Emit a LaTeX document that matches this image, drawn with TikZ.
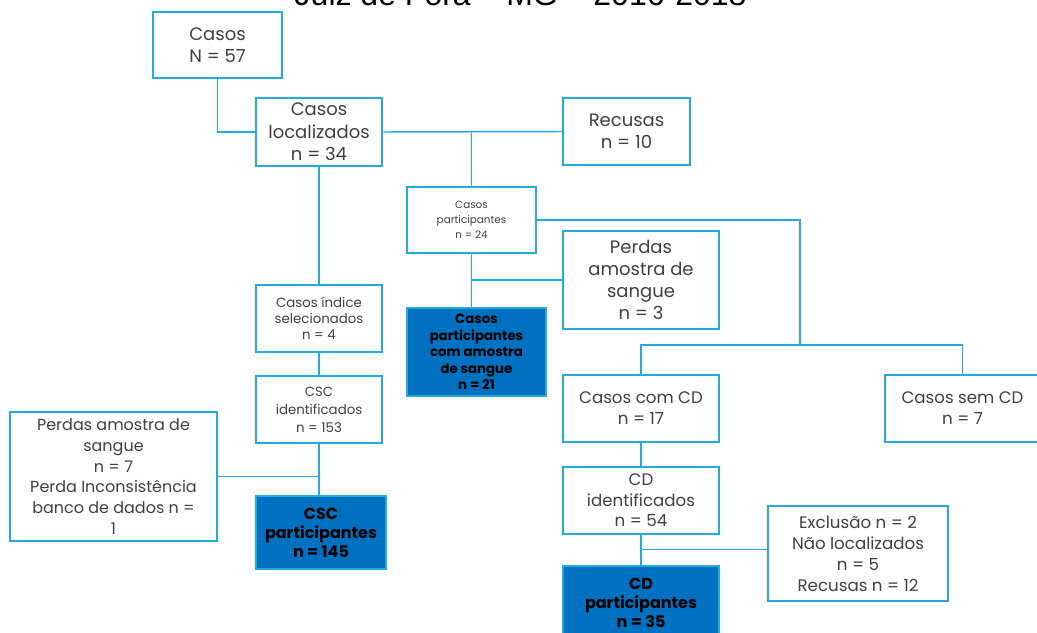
\documentclass[tikz,border=0pt]{standalone}
\usepackage{fontspec}
\setmainfont{Poppins}
\newfontfamily\titlefont{Liberation Sans}
\definecolor{boxblue}{RGB}{35,170,225}
\definecolor{fillblue}{RGB}{0,112,192}
\definecolor{txtgray}{RGB}{64,64,64}
\begin{document}
\begin{tikzpicture}[x=0.75pt,y=-0.75pt,
		box/.style={draw=boxblue, line width=2.2pt, fill=white, text=txtgray, align=center, inner sep=1pt},
		filledbox/.style={box, fill=fillblue, text=black, font=\bfseries},
		link/.style={draw=boxblue, line width=1.1pt}]
		\clip (0,0) rectangle (1037,632);
		\node (title) [anchor=base west, font=\titlefont\fontsize{24}{28}\selectfont] at (290,5) {Juiz de Fora – MG – 2016-2018};
		% first column
		\node (casos) [box, minimum width=96.75pt, minimum height=49.5pt, font=\fontsize{13.5}{16.5}\selectfont] at (217.5,45) {Casos\\N = 57};
		\node (loc) [box, minimum width=94.5pt, minimum height=51pt, font=\fontsize{13.5}{16.9}\selectfont] at (319,132) {Casos\\localizados\\n = 34};
		\node (recusas) [box, minimum width=95.25pt, minimum height=50.25pt, font=\fontsize{13.5}{16.5}\selectfont] at (626.5,131.5) {Recusas\\n = 10};
		\node (indice) [box, minimum width=94.5pt, minimum height=50.25pt, font=\fontsize{10}{12}\selectfont] at (319,318.5) {Casos índice\\selecionados\\n = 4};
		\node (cscid) [box, minimum width=94.5pt, minimum height=50.25pt, font=\fontsize{10}{13.5}\selectfont] at (319,409.5) {CSC\\identificados\\n = 153};
		\node (perdas7) [box, minimum width=155.25pt, minimum height=96.75pt, font=\fontsize{12}{15.5}\selectfont] at (113.5,476.5) {Perdas amostra de\\sangue\\n = 7\\Perda Inconsistência\\banco de dados n =\\1};
		\node (cscpart) [filledbox, minimum width=97.5pt, minimum height=54.75pt, font=\bfseries\fontsize{12}{14.25}\selectfont] at (321,532.5) {CSC\\participantes\\n = 145};
		% participants
		\node (part) [box, minimum width=96.75pt, minimum height=49.5pt, font=\fontsize{7.8}{11.25}\selectfont] at (471.5,220) {Casos\\participantes\\n = 24};
		\node (perdas3) [box, minimum width=117pt, minimum height=73.5pt, font=\fontsize{13.5}{16.5}\selectfont] at (641,280) {Perdas\\amostra de\\sangue\\n = 3};
		\node (partam) [filledbox, minimum width=104.25pt, minimum height=66pt, font=\bfseries\fontsize{10}{12.3}\selectfont] at (476.5,352) {Casos\\participantes\\com amostra\\de sangue\\n = 21};
		% family contacts
		\node (comcd) [box, minimum width=117pt, minimum height=50.25pt, font=\fontsize{12.5}{15.75}\selectfont] at (641,408.5) {Casos com CD\\n = 17};
		\node (semcd) [box, minimum width=116.25pt, minimum height=50.25pt, font=\fontsize{12.5}{15.75}\selectfont] at (962.5,408.5) {Casos sem CD\\n = 7};
		\node (cdid) [box, minimum width=117pt, minimum height=50.25pt, font=\fontsize{12.5}{15.4}\selectfont] at (641,500.5) {CD\\identificados\\n = 54};
		\node (excl) [box, minimum width=135pt, minimum height=71.25pt, font=\fontsize{12.5}{15.75}\selectfont] at (858,553.5) {Exclusão n = 2\\Não localizados\\n = 5\\Recusas n = 12};
		\node (cdpart) [filledbox, minimum width=117pt, minimum height=54.75pt, font=\bfseries\fontsize{12}{14.25}\selectfont] at (641,602.5) {CD\\participantes\\n = 35};
		\coordinate (split) at (800,345);
		% connectors
		\draw[link] (casos.south) |- (loc.west);
		\draw[link] (loc.east) -- (recusas.west);
		\draw[link] (part.north) -- (part.north |- loc.east);
		\draw[link] (loc.south) -- (indice.north);
		\draw[link] (indice.south) -- (cscid.north);
		\draw[link] (cscid.south) -- (cscid.south |- cscpart.north);
		\draw[link] (perdas7.east) -- (perdas7.east -| cscid.south);
		\draw[link] (part.south) -- (part.south |- partam.north);
		\draw[link] (perdas3.west) -- (perdas3.west -| part.south);
		\draw[link] (part.east) -| (split);
		\draw[link] (comcd.north) |- (split) -| (semcd.north);
		\draw[link] (comcd.south) -- (cdid.north);
		\draw[link] (cdid.south) -- (cdpart.north);
		\draw[link] ([yshift=3pt]excl.west) -- ([yshift=3pt]excl.west -| cdid.south);
	\end{tikzpicture}
\end{document}
